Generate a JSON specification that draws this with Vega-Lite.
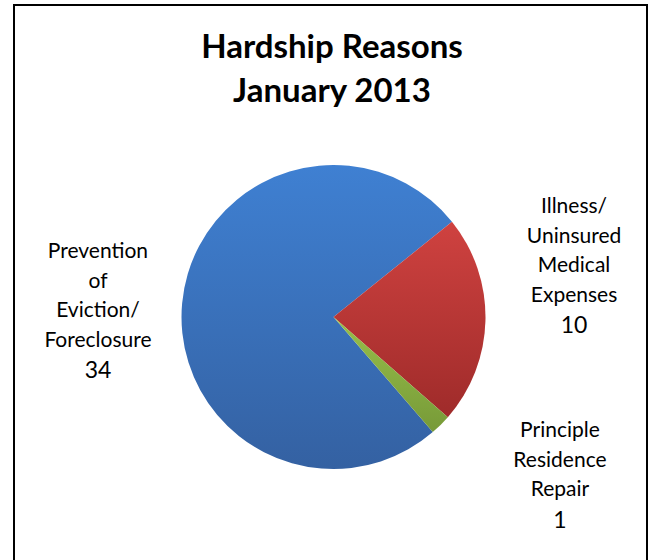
{
  "$schema": "https://vega.github.io/schema/vega-lite/v6.json",
  "autosize": {"type": "none"},
  "width": 633,
  "height": 570,
  "padding": {"left": 14, "top": 5, "right": 2, "bottom": -15},
  "background": "white",
  "title": {
    "text": ["Hardship Reasons", "January 2013"],
    "font": "Lato",
    "fontSize": 33,
    "fontWeight": "bold",
    "color": "black",
    "lineHeight": 44,
    "baseline": "alphabetic",
    "offset": -131,
    "anchor": "middle",
    "frame": "group",
    "dx": 1.5
  },
  "config": {
    "view": {"stroke": null},
    "text": {"font": "Lato", "color": "black"}
  },
  "data": {
    "values": [
      {"reason": "Prevention of Eviction/Foreclosure", "label": "Prevention\nof\nEviction/\nForeclosure", "count": 34},
      {"reason": "Illness/Uninsured Medical Expenses", "label": "Illness/\nUninsured\nMedical\nExpenses", "count": 10},
      {"reason": "Principle Residence Repair", "label": "Principle\nResidence\nRepair", "count": 1}
    ]
  },
  "layer": [
    {
      "mark": {"type": "rect", "fill": null, "stroke": "black", "strokeWidth": 2},
      "encoding": {}
    },
    {
      "encoding": {
        "theta": {"field": "count", "type": "quantitative", "stack": true, "scale": {"range": [2.29, 8.5732]}},
        "detail": {"field": "reason", "type": "nominal"},
        "order": {"field": "reason", "type": "nominal", "sort": "descending"}
      },
      "layer": [
        {
          "mark": {"type": "arc", "outerRadius": 152, "xOffset": 3, "yOffset": 27},
          "encoding": {
            "fill": {
              "condition": [
                {"test": "datum.reason === 'Illness/Uninsured Medical Expenses'", "value": {"gradient": "linear", "x1": 0, "y1": 0, "x2": 0, "y2": 1, "stops": [{"offset": 0, "color": "#cf4240"}, {"offset": 1, "color": "#9f2b2a"}]}},
                {"test": "datum.reason === 'Principle Residence Repair'", "value": {"gradient": "linear", "x1": 0, "y1": 0, "x2": 0, "y2": 1, "stops": [{"offset": 0, "color": "#98c04a"}, {"offset": 1, "color": "#779a38"}]}}
              ],
              "value": {"gradient": "linear", "x1": 0, "y1": 0, "x2": 0, "y2": 1, "stops": [{"offset": 0, "color": "#3f80d2"}, {"offset": 1, "color": "#3461a2"}]}
            }
          }
        },
        {
          "mark": {"type": "text", "radius": 235, "xOffset": 3, "yOffset": 27, "dx": 5.6, "dy": -108.6, "fontSize": 21, "lineBreak": "\n", "lineHeight": 29.5, "align": "center", "baseline": "alphabetic"},
          "encoding": {
            "text": {"condition": {"test": "datum.reason === 'Illness/Uninsured Medical Expenses'", "field": "label", "type": "nominal"}, "value": ""}
          }
        },
        {
          "mark": {"type": "text", "radius": 235, "xOffset": 3, "yOffset": 27, "dx": 5.6, "dy": 10.8, "fontSize": 23, "align": "center", "baseline": "alphabetic"},
          "encoding": {
            "text": {"condition": {"test": "datum.reason === 'Illness/Uninsured Medical Expenses'", "field": "count", "type": "quantitative"}, "value": ""}
          }
        },
        {
          "mark": {"type": "text", "radius": 235, "xOffset": 3, "yOffset": 27, "dx": -1.5, "dy": -37.4, "fontSize": 21, "lineBreak": "\n", "lineHeight": 29.5, "align": "center", "baseline": "alphabetic"},
          "encoding": {
            "text": {"condition": {"test": "datum.reason === 'Prevention of Eviction/Foreclosure'", "field": "label", "type": "nominal"}, "value": ""}
          }
        },
        {
          "mark": {"type": "text", "radius": 235, "xOffset": 3, "yOffset": 27, "dx": -1.5, "dy": 82.6, "fontSize": 23, "align": "center", "baseline": "alphabetic"},
          "encoding": {
            "text": {"condition": {"test": "datum.reason === 'Prevention of Eviction/Foreclosure'", "field": "count", "type": "quantitative"}, "value": ""}
          }
        },
        {
          "mark": {"type": "text", "radius": 235, "xOffset": 3, "yOffset": 27, "dx": 60.9, "dy": -46.5, "fontSize": 21, "lineBreak": "\n", "lineHeight": 29.5, "align": "center", "baseline": "alphabetic"},
          "encoding": {
            "text": {"condition": {"test": "datum.reason === 'Principle Residence Repair'", "field": "label", "type": "nominal"}, "value": ""}
          }
        },
        {
          "mark": {"type": "text", "radius": 235, "xOffset": 3, "yOffset": 27, "dx": 60.9, "dy": 44.6, "fontSize": 23, "align": "center", "baseline": "alphabetic"},
          "encoding": {
            "text": {"condition": {"test": "datum.reason === 'Principle Residence Repair'", "field": "count", "type": "quantitative"}, "value": ""}
          }
        }
      ]
    }
  ]
}
